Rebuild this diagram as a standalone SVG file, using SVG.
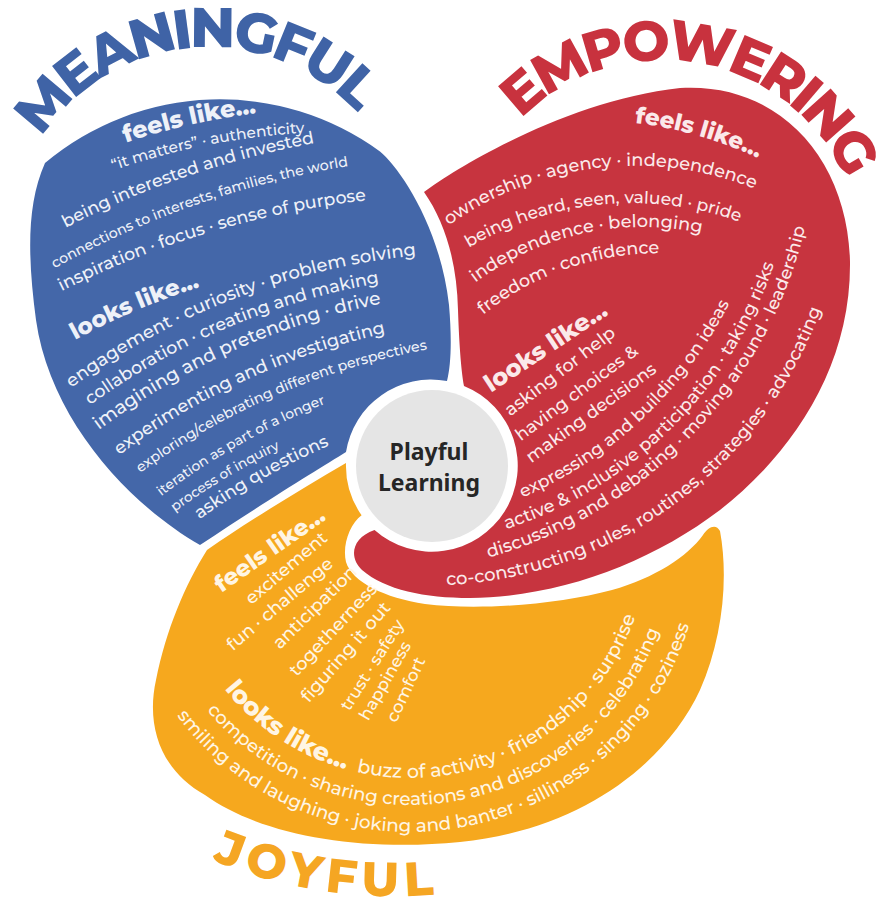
<svg xmlns="http://www.w3.org/2000/svg" width="879" height="907" viewBox="0 0 879 907">
<style>
.title{font-family:"Montserrat","Open Sans","DejaVu Sans",sans-serif;font-weight:800;text-anchor:middle}
.t{font-family:"Montserrat","Open Sans","DejaVu Sans",sans-serif;font-weight:500;text-anchor:middle}
.b{font-family:"Montserrat","Open Sans","DejaVu Sans",sans-serif;font-weight:800;text-anchor:middle}
.wb{fill:#eef1f8}
.wr{fill:#fbe9ea}
.wy{fill:#fff5e4}
</style>
<defs>
<path id="F200" d="M -190,137.55 A 200 200 0 0 1 190,137.55"/>
<path id="F280" d="M -266,192.6 A 280 280 0 0 1 266,192.6"/>
<path id="F320" d="M -304,220.1 A 320 320 0 0 1 304,220.1"/>
<path id="F400" d="M -380,275.1 A 400 400 0 0 1 380,275.1"/>
<path id="F700" d="M -450,163.8 A 700 700 0 0 1 450,163.8"/>
<path id="F900" d="M -450,120.6 A 900 900 0 0 1 450,120.6"/>
<path id="S420" d="M -399,-288.9 A 420 420 0 0 0 399,-288.9"/>
<path id="S450" d="M -427.5,-309.5 A 450 450 0 0 0 427.5,-309.5"/>
<path id="S480" d="M -450,-313 A 480 480 0 0 0 450,-313"/>
<path id="yA" d="M 194.3,640.6 A 238 238 0 0 0 647.1,560.7"/>
<path id="yB" d="M 169.8,652 A 265 265 0 0 0 674,563.1"/>
<path id="yC" d="M 145.4,663.4 A 292 292 0 0 0 700.9,565.4"/>
</defs>
<rect width="879" height="907" fill="#ffffff"/>
<g id="connectors"/>

<g id="meaningful">
<path fill="#4467a9" d="M 200,545 C 130,505 50,420 36,320 C 28,260 26,205 45,163 A 272 272 0 0 1 380,151.5 C 398,166 440,225 449,305 C 452,340 451,365 447,381 A 86 86 0 0 0 346,452 C 320,468 260,505 200,545 Z"/>
<text class="title" fill="#3f63a6" font-size="56" letter-spacing="-4" transform="translate(191.6,48) rotate(-5)"><textPath href="#F200" startOffset="50%">MEANINGFUL</textPath></text>
<g class="wb">
<text class="b" font-size="24" transform="translate(190.3,124.8) rotate(-12.8)"><textPath href="#F700" startOffset="50%">feels like...</textPath></text>
<text class="t" font-size="15.4" transform="translate(207.7,145) rotate(-11.1)"><textPath href="#F700" startOffset="50%">“it matters” · authenticity</textPath></text>
<text class="t" font-size="17.4" transform="translate(186.9,176.3) rotate(-18.8)"><textPath href="#F900" startOffset="50%">being interested and invested</textPath></text>
<text class="t" font-size="14.2" transform="translate(197.1,204.4) rotate(-19.2)"><textPath href="#F900" startOffset="50%">connections to interests, families, the world</textPath></text>
<text class="t" font-size="17.4" transform="translate(209.9,232.3) rotate(-16.6)"><textPath href="#F900" startOffset="50%">inspiration · focus · sense of purpose</textPath></text>
<text class="b" font-size="23" transform="translate(136.2,310.5) rotate(-23)"><textPath href="#F700" startOffset="50%">looks like...</textPath></text>
<text class="t" font-size="18" transform="translate(234.9,298.5) rotate(-21)"><textPath href="#F700" startOffset="50%">engagement · curiosity · problem solving</textPath></text>
<text class="t" font-size="17.5" transform="translate(227.8,327.6) rotate(-22.9)"><textPath href="#F700" startOffset="50%">collaboration · creating and making</textPath></text>
<text class="t" font-size="18.6" transform="translate(233,351) rotate(-24.1)"><textPath href="#F700" startOffset="50%">imagining and pretending · drive</textPath></text>
<text class="t" font-size="17.7" transform="translate(246,380) rotate(-24.6)"><textPath href="#F700" startOffset="50%">experimenting and investigating</textPath></text>
<text class="t" font-size="14.2" transform="translate(276.8,395) rotate(-23.3)"><textPath href="#F700" startOffset="50%">exploring/celebrating different perspectives</textPath></text>
<text class="t" font-size="13.8" transform="translate(240.3,444.3) rotate(-29.4)"><textPath href="#F700" startOffset="50%">iteration as part of a longer</textPath></text>
<text class="t" font-size="13.7" transform="translate(226,478) rotate(-31)"><textPath href="#F700" startOffset="50%">process of inquiry</textPath></text>
<text class="t" font-size="17.4" transform="translate(262.4,479) rotate(-29.7)"><textPath href="#F700" startOffset="50%">asking questions</textPath></text>
</g>
</g>

<g id="empowering">
<path fill="#c7343f" d="M 424,192 C 460,165 570,100 680,88 C 780,82 848,160 850,262 C 851,370 790,455 720,510 C 650,563 560,597 470,598 C 425,598 385,590 362,570 C 349,558 351,538 374.5,529.9 A 86 86 0 1 0 464,386 C 461,370 459,340 458,310 C 457,262 445,222 424,192 Z"/>
<text class="title" fill="#c8323e" font-size="56" letter-spacing="-4.5" transform="translate(697.7,63) rotate(10)"><textPath href="#F200" startOffset="50%">EMPOWERING</textPath></text>
<g class="wr">
<text class="b" font-size="23" transform="translate(697.9,135.6) rotate(15.9)"><textPath href="#F400" startOffset="50%">feels like...</textPath></text>
<text class="t" font-size="17.8" transform="translate(597,168) rotate(-6.8)"><textPath href="#F320" startOffset="50%">ownership · agency · independence</textPath></text>
<text class="t" font-size="17.1" transform="translate(601.2,204.6) rotate(-5.5)"><textPath href="#F320" startOffset="50%">being heard, seen, valued · pride</textPath></text>
<text class="t" font-size="17.8" transform="translate(583,233.5) rotate(-12.4)"><textPath href="#F280" startOffset="50%">independence · belonging</textPath></text>
<text class="t" font-size="17.6" transform="translate(565.9,269) rotate(-19.3)"><textPath href="#F280" startOffset="50%">freedom · confidence</textPath></text>
<text class="b" font-size="24" transform="translate(550,353.5) rotate(-33.6)">looks like...</text>
<text class="t" font-size="17.8" transform="translate(563.5,376) rotate(-37.5)">asking for help</text>
<text class="t" font-size="17.3" transform="translate(580,397.5) rotate(-36.6)">having choices &amp;</text>
<text class="t" font-size="17.5" transform="translate(594.5,417.5) rotate(-36)">making decisions</text>
<text class="t" font-size="17.3" transform="translate(643,418.6) rotate(-43.2)"><textPath href="#S420" startOffset="50%">expressing and building on ideas</textPath></text>
<text class="t" font-size="17.7" transform="translate(671.6,428.4) rotate(-44.7)"><textPath href="#S420" startOffset="50%">active &amp; inclusive participation · taking risks</textPath></text>
<text class="t" font-size="17.6" transform="translate(692,435.8) rotate(-46.2)"><textPath href="#S450" startOffset="50%">discussing and debating · moving around · leadership</textPath></text>
<text class="t" font-size="17.9" transform="translate(675.5,503.8) rotate(-36.4)"><textPath href="#S420" startOffset="50%">co-constructing rules, routines, strategies · advocating</textPath></text>
</g>
</g>

<g id="joyful">
<path fill="#f6a81e" d="M 207,550 C 250,520 300,490 346,463 A 86 86 0 0 0 361.6,515.3 C 350,524 342,545 346,562 C 352,582 385,598 425,604 C 480,611 560,604 612,590 C 655,578 688,556 703,535 C 708,527 716,523 720,531 C 729,580 722,640 700,690 C 665,765 580,830 460,842 C 360,852 260,835 205,795 C 160,770 146,725 156,680 C 166,630 185,585 207,550 Z"/>
<text class="title" fill="#f5a623" font-size="48" letter-spacing="6" transform="translate(324.1,891) rotate(8.5)"><textPath href="#S480" startOffset="50%">JOYFUL</textPath></text>
<g class="wy">
<text class="b" font-size="23" transform="translate(274,556) rotate(-34.9)">feels like...</text>
<text class="t" font-size="17.6" transform="translate(290,572.5) rotate(-40.5)">excitement</text>
<text class="t" font-size="17.7" transform="translate(283.5,608.5) rotate(-40.2)">fun · challenge</text>
<text class="t" font-size="18" transform="translate(319,611.5) rotate(-44.6)">anticipation</text>
<text class="t" font-size="17.8" transform="translate(337.5,633.5) rotate(-47)">togetherness</text>
<text class="t" font-size="18" transform="translate(350,656) rotate(-49)">figuring it out</text>
<text class="t" font-size="16.7" transform="translate(377,668) rotate(-57.7)">trust · safety</text>
<text class="t" font-size="16.8" transform="translate(390,683.5) rotate(-60.3)">happiness</text>
<text class="t" font-size="17.1" transform="translate(411,692) rotate(-65)">comfort</text>
<text class="t" font-size="19"><textPath href="#yA" startOffset="50%"><tspan class="b" font-size="25">looks like...</tspan><tspan dx="11">buzz of activity · friendship · surprise</tspan></textPath></text>
<text class="t" font-size="18.2"><textPath href="#yB" startOffset="50%">competition · sharing creations and discoveries · celebrating</textPath></text>
<text class="t" font-size="18.3"><textPath href="#yC" startOffset="50%">smiling and laughing  · joking and banter · silliness · singing · coziness</textPath></text>
</g>
</g>

<g id="center">
<circle cx="432" cy="466" r="76" fill="#e5e5e5"/>
<text font-family="'Noto Sans','Open Sans',sans-serif" font-weight="700" font-size="23" fill="#262626" text-anchor="middle" x="429" y="460">Playful</text>
<text font-family="'Noto Sans','Open Sans',sans-serif" font-weight="700" font-size="23" fill="#262626" text-anchor="middle" x="429" y="491">Learning</text>
</g>
</svg>
